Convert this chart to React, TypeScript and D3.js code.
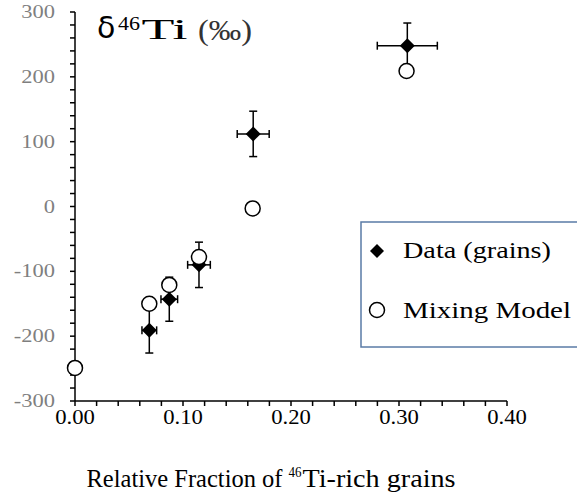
import React from 'react';
import * as d3 from 'd3';

// ---- data ----
const dataX = [0.0688, 0.0873, 0.1148, 0.165, 0.3077];
const dataY = [-191, -143, -90, 112, 248];
const dataXErr = [0.0068, 0.0077, 0.0105, 0.0148, 0.0278];
const dataYErr = [35, 34, 35, 35, 35];
const modelX = [0, 0.0688, 0.0873, 0.1148, 0.1645, 0.307];
const modelY = [-249, -150, -121, -78, -3, 209];
const xTicks = [0, 0.1, 0.2, 0.3, 0.4];
const xTickLabels = ['0.00', '0.10', '0.20', '0.30', '0.40'];
const yTicks = [-300, -200, -100, 0, 100, 200, 300];
const yTickLabels = ['-300', '-200', '-100', '0', '100', '200', '300'];
const legendLabels = ['Data (grains)', 'Mixing Model'];

const SERIF = '"Liberation Serif", "Times New Roman", serif';

function SText({ x, y, sx = 1, anchor = 'start', size, fill = '#000', family = SERIF, children }: any) {
  return (
    <text
      transform={`translate(${x},${y}) scale(${sx},1)`}
      textAnchor={anchor}
      fontSize={size}
      fontFamily={family}
      fill={fill}
    >
      {children}
    </text>
  );
}

function LText({ x, y, len, size, fill = '#000', family = SERIF, children }: any) {
  return (
    <text x={x} y={y} fontSize={size} fontFamily={family} fill={fill} textLength={len} lengthAdjust="spacingAndGlyphs">
      {children}
    </text>
  );
}

export default function App() {
  const W = 577, H = 496;
  const x = d3.scaleLinear().domain([0, 0.4]).range([75, 507]);
  const y = d3.scaleLinear().domain([-300, 300]).range([401, 12]);
  const xMinor = d3.range(0, 0.4001, 0.02);
  const yMinor = d3.range(-300, 300.1, 20);
  const D = 7.5; // diamond half size
  const R = 7.5; // circle radius
  const cap = 4;
  const diamond = (cx: number, cy: number, s: number) =>
    `M${cx},${cy - s}L${cx + s},${cy}L${cx},${cy + s}L${cx - s},${cy}Z`;

  return (
    <svg width={W} height={H} style={{ position: 'absolute', left: 0, top: 0, background: '#fff' }}>
      <rect x={0} y={0} width={W} height={H} fill="#fff" />
      {/* axes */}
      <g stroke="#000" strokeWidth={1.5}>
        <line x1={x(0)} x2={x(0)} y1={y(300)} y2={y(-300)} />
        <line x1={x(0)} x2={x(0.4)} y1={y(-300)} y2={y(-300)} />
        {yMinor.map((v, i) => (
          <line key={'ym' + i} x1={x(0) - 5} x2={x(0)} y1={y(v)} y2={y(v)} />
        ))}
        {xMinor.map((v, i) => (
          <line key={'xm' + i} x1={x(v)} x2={x(v)} y1={y(-300)} y2={y(-300) + 5} />
        ))}
      </g>
      {yTicks.map((v, i) => (
        <SText key={'yl' + i} x={55} y={y(v) + 6} sx={1.25} anchor="end" size={18} fill="#7f7f7f">
          {yTickLabels[i]}
        </SText>
      ))}
      {xTicks.map((v, i) => (
        <SText key={'xl' + i} x={x(v)} y={424} sx={1.08} anchor="middle" size={21}>
          {xTickLabels[i]}
        </SText>
      ))}
      {/* error bars */}
      <g stroke="#000" strokeWidth={1.5}>
        {dataX.map((vx, i) => {
          const cx = x(vx), cy = y(dataY[i]);
          const y1 = y(dataY[i] + dataYErr[i]), y2 = y(dataY[i] - dataYErr[i]);
          const x1 = x(vx - dataXErr[i]), x2 = x(vx + dataXErr[i]);
          return (
            <g key={'eb' + i}>
              <line x1={cx} x2={cx} y1={y1} y2={y2} />
              <line x1={cx - cap} x2={cx + cap} y1={y1} y2={y1} />
              <line x1={cx - cap} x2={cx + cap} y1={y2} y2={y2} />
              <line x1={x1} x2={x2} y1={cy} y2={cy} />
              <line x1={x1} x2={x1} y1={cy - cap} y2={cy + cap} />
              <line x1={x2} x2={x2} y1={cy - cap} y2={cy + cap} />
            </g>
          );
        })}
      </g>
      {/* data diamonds */}
      {dataX.map((vx, i) => (
        <path key={'d' + i} d={diamond(x(vx), y(dataY[i]), D)} fill="#000" />
      ))}
      {/* model circles */}
      {modelX.map((vx, i) => (
        <circle key={'c' + i} cx={x(vx)} cy={y(modelY[i])} r={R} fill="#fff" stroke="#000" strokeWidth={1.5} />
      ))}
      {/* title */}
      <text fontFamily={SERIF} fill="#000">
        <tspan x={97} y={38} fontSize={30} fontFamily='"DejaVu Sans", sans-serif'>δ</tspan>
        <tspan x={118} y={29.5} fontSize={19} textLength={22} lengthAdjust="spacingAndGlyphs">46</tspan>
        <tspan x={141.5} y={39.3} fontSize={29} textLength={46} lengthAdjust="spacingAndGlyphs">Ti</tspan>
        <tspan x={198} y={40} fontSize={30} fill="#333" textLength={54} lengthAdjust="spacingAndGlyphs">(‰)</tspan>
      </text>
      {/* x axis title */}
      <text fontFamily={SERIF} fill="#000" fontSize={25}>
        <tspan x={86.5} y={486.7} textLength={196} lengthAdjust="spacingAndGlyphs">Relative Fraction of</tspan>
        <tspan x={288.5} y={477} fontSize={15} textLength={13} lengthAdjust="spacingAndGlyphs">46</tspan>
        <tspan x={302.5} y={486.7} textLength={153} lengthAdjust="spacingAndGlyphs">Ti-rich grains</tspan>
      </text>
      {/* legend */}
      <rect x={361} y={222} width={240} height={125} fill="#fff" stroke="#5a7ba6" strokeWidth={1.5} />
      <path d={diamond(377, 251, 7)} fill="#000" />
      <circle cx={377} cy={310} r={7.5} fill="#fff" stroke="#000" strokeWidth={1.5} />
      <LText x={403} y={258} len={148} size={24}>{legendLabels[0]}</LText>
      <LText x={403} y={318} len={168} size={24}>{legendLabels[1]}</LText>
    </svg>
  );
}
